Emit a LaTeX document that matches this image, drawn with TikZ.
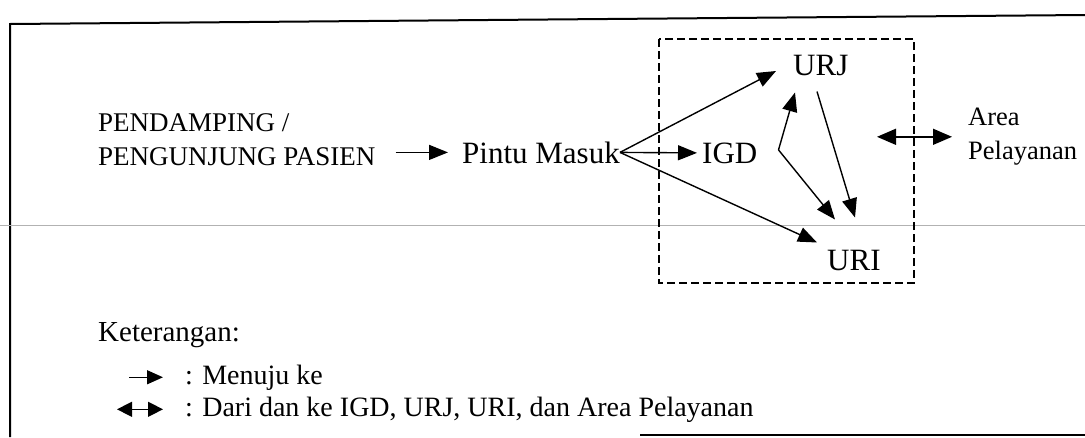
\documentclass[tikz,border=0pt]{standalone}
\usepackage{fontspec}
\setmainfont{Liberation Serif}
\usetikzlibrary{arrows.meta,calc}
\begin{document}
\begin{tikzpicture}[x=1pt,y=-1pt,
  lbl/.style={anchor=base west,inner sep=0pt,font=\fontsize{31}{36}\selectfont},
  sidelbl/.style={anchor=north west,inner sep=0pt,align=left,font=\fontsize{27}{34}\selectfont},
  legtxt/.style={anchor=base west,inner sep=0pt,font=\fontsize{28}{33}\selectfont},
  arr/.style={line width=1.4pt,-{Triangle[length=19pt,width=15pt]}},
  dblarr/.style={line width=1.4pt,{Triangle[length=19pt,width=16pt]}-{Triangle[length=19pt,width=16pt]}},
  legdbl/.style={line width=1.4pt,{Triangle[length=15pt,width=15pt]}-{Triangle[length=15pt,width=15pt]}},
  frame/.style={line width=2pt},
  group/.style={line width=1.5pt,dash pattern=on 8pt off 4pt}
]
\useasboundingbox (0,0) rectangle (1085,437);
% frame and scan line
\draw[frame] (10,437) -- (10,24) -- (1085,15);
\draw[frame] (640,435) -- (1085,435);
\draw[gray!60,line width=0.8pt] (0,225) -- (1085,225);
% dashed group
\draw[group] (659,39) rectangle (914,283);
% nodes
\node[sidelbl] (pend) at (98,113) {PENDAMPING /\\PENGUNJUNG PASIEN};
\node[lbl] (pin) at (462,163) {Pintu Masuk};
\node[lbl] (igd) at (702,163) {IGD};
\node[lbl] (urj) at (793,75) {URJ};
\node[lbl] (uri) at (827,270) {URI};
\node[sidelbl,font=\fontsize{26.5}{34}\selectfont] (area) at (968,108) {Area\\Pelayanan};
\coordinate (v) at ($(igd.east)+(21,-3)$);
% connectors
\draw[arr] ($(pend.east |- pin.west)+(20,0)$) -- ($(pin.west)+(-14,0)$);
\draw[arr] (pin.east) -- ($(urj.west)+(-17,6)$);
\draw[arr] (pin.east) -- ($(igd.west)+(-5,0)$);
\draw[arr] (pin.east) -- ($(uri.north west)+(-10,-7)$);
\draw[arr] (v) -- ($(urj.south west)+(2,17)$);
\draw[arr] (v) -- ($(uri.north west)+(8,-30)$);
\draw[arr] ($(urj.south west)+(24,16)$) -- ($(uri.north west)+(28,-32)$);
\draw[dblarr] ($(area.west)+(-91,0)$) -- ($(area.west)+(-16,0)$);
% legend
\node[legtxt,font=\fontsize{29}{33}\selectfont] (ket) at (98,341) {Keterangan:};
\node[legtxt] (l1) at (185,384) {: Menuju ke};
\node[legtxt] (l2) at (185,416) {: Dari dan ke IGD, URJ, URI, dan Area Pelayanan};
\draw[arr,-{Triangle[length=16pt,width=14pt]}] ($(l1.west)+(-56,0)$) -- ($(l1.west)+(-22,0)$);
\draw[legdbl] ($(l2.west)+(-68,0)$) -- ($(l2.west)+(-22,0)$);
\end{tikzpicture}
\end{document}
